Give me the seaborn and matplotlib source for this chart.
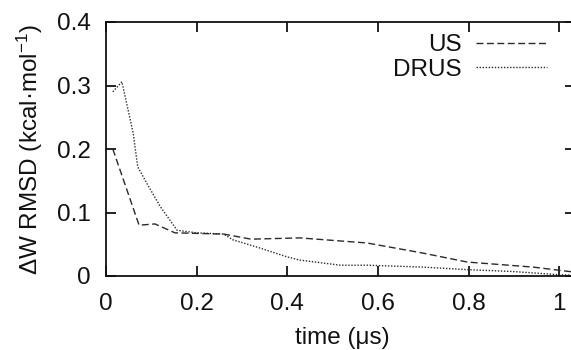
import matplotlib
matplotlib.use("Agg")
import matplotlib.pyplot as plt
import seaborn as sns
import pandas as pd
from matplotlib.lines import Line2D

# Data
us_t = [0.015, 0.073, 0.108, 0.152, 0.26, 0.32, 0.428, 0.576, 0.70, 0.797, 0.943, 1.0, 1.035]
us_v = [0.200, 0.080, 0.082, 0.068, 0.066, 0.058, 0.060, 0.052, 0.036, 0.022, 0.014, 0.009, 0.006]
drus_t = [0.015, 0.035, 0.06, 0.07, 0.09, 0.12, 0.157, 0.20, 0.26, 0.28, 0.34, 0.40, 0.428, 0.517, 0.576, 0.70, 0.797, 0.90, 1.0, 1.035]
drus_v = [0.290, 0.306, 0.225, 0.172, 0.146, 0.109, 0.072, 0.068, 0.066, 0.057, 0.044, 0.030, 0.025, 0.017, 0.017, 0.014, 0.010, 0.007, 0.002, 0.001]
x_ticks = [0, 0.2, 0.4, 0.6, 0.8, 1.0]
x_labels = ["0", "0.2", "0.4", "0.6", "0.8", "1"]
y_ticks = [0, 0.1, 0.2, 0.3, 0.4]
y_labels = ["0", "0.1", "0.2", "0.3", "0.4"]

df = pd.concat([
    pd.DataFrame({"t": us_t, "v": us_v, "series": "US"}),
    pd.DataFrame({"t": drus_t, "v": drus_v, "series": "DRUS"}),
])

sns.set_style("ticks")
plt.rcParams["font.family"] = ["Liberation Sans", "DejaVu Sans"]
plt.rcParams["mathtext.fontset"] = "custom"
plt.rcParams["mathtext.rm"] = "Liberation Sans"
plt.rcParams["mathtext.it"] = "Liberation Sans:italic"

FS = 17.5
INK = "#111111"
LINE = "#2a2a2a"
US_DASH = (5, 2.5)
DRUS_DASH = (1, 1.2)

fig = plt.figure(figsize=(5.71, 3.5), dpi=100)
ax = fig.add_axes([106/571, 1-276/350, (575-106)/571, (276-22)/350])

sns.lineplot(data=df, x="t", y="v", hue="series", style="series",
             palette={"US": LINE, "DRUS": LINE},
             dashes={"US": US_DASH, "DRUS": DRUS_DASH},
             ax=ax, linewidth=1.0, legend=False, sort=False)

ax.set_xlim(0, 1.035)
ax.set_ylim(0, 0.4)
ax.set_xticks(x_ticks)
ax.set_xticklabels(x_labels)
ax.set_yticks(y_ticks)
ax.set_yticklabels(y_labels)
ax.tick_params(direction="in", length=7, width=1.3, top=True, right=True,
               labelsize=FS, colors=INK)
ax.tick_params(axis="x", pad=12)
ax.tick_params(axis="y", pad=11)
for s in ax.spines.values():
    s.set_visible(True)
    s.set_linewidth(1.3)
    s.set_color(INK)

ax.set_xlabel("time (μs)", fontsize=FS, color=INK)
ax.set_ylabel(r"ΔW RMSD (kcal·mol$^{-1}$)", fontsize=17.5, color=INK)
ax.xaxis.set_label_coords(0.503, -0.2)
ax.yaxis.set_label_coords(-0.13, 0.5)

handles = [Line2D([], [], color=LINE, lw=1.0, dashes=US_DASH),
           Line2D([], [], color=LINE, lw=1.0, dashes=DRUS_DASH)]
leg = ax.legend(handles, ["US", "DRUS"], loc="upper right", markerfirst=False,
                frameon=False, fontsize=FS, handlelength=2.9, handletextpad=0.62,
                labelspacing=0.1, borderpad=0, borderaxespad=0,
                bbox_to_anchor=(0.940, 0.952))
for t in leg.get_texts():
    t.set_ha("right")
    t.set_color(INK)

fig.savefig("out.png", dpi=100)
